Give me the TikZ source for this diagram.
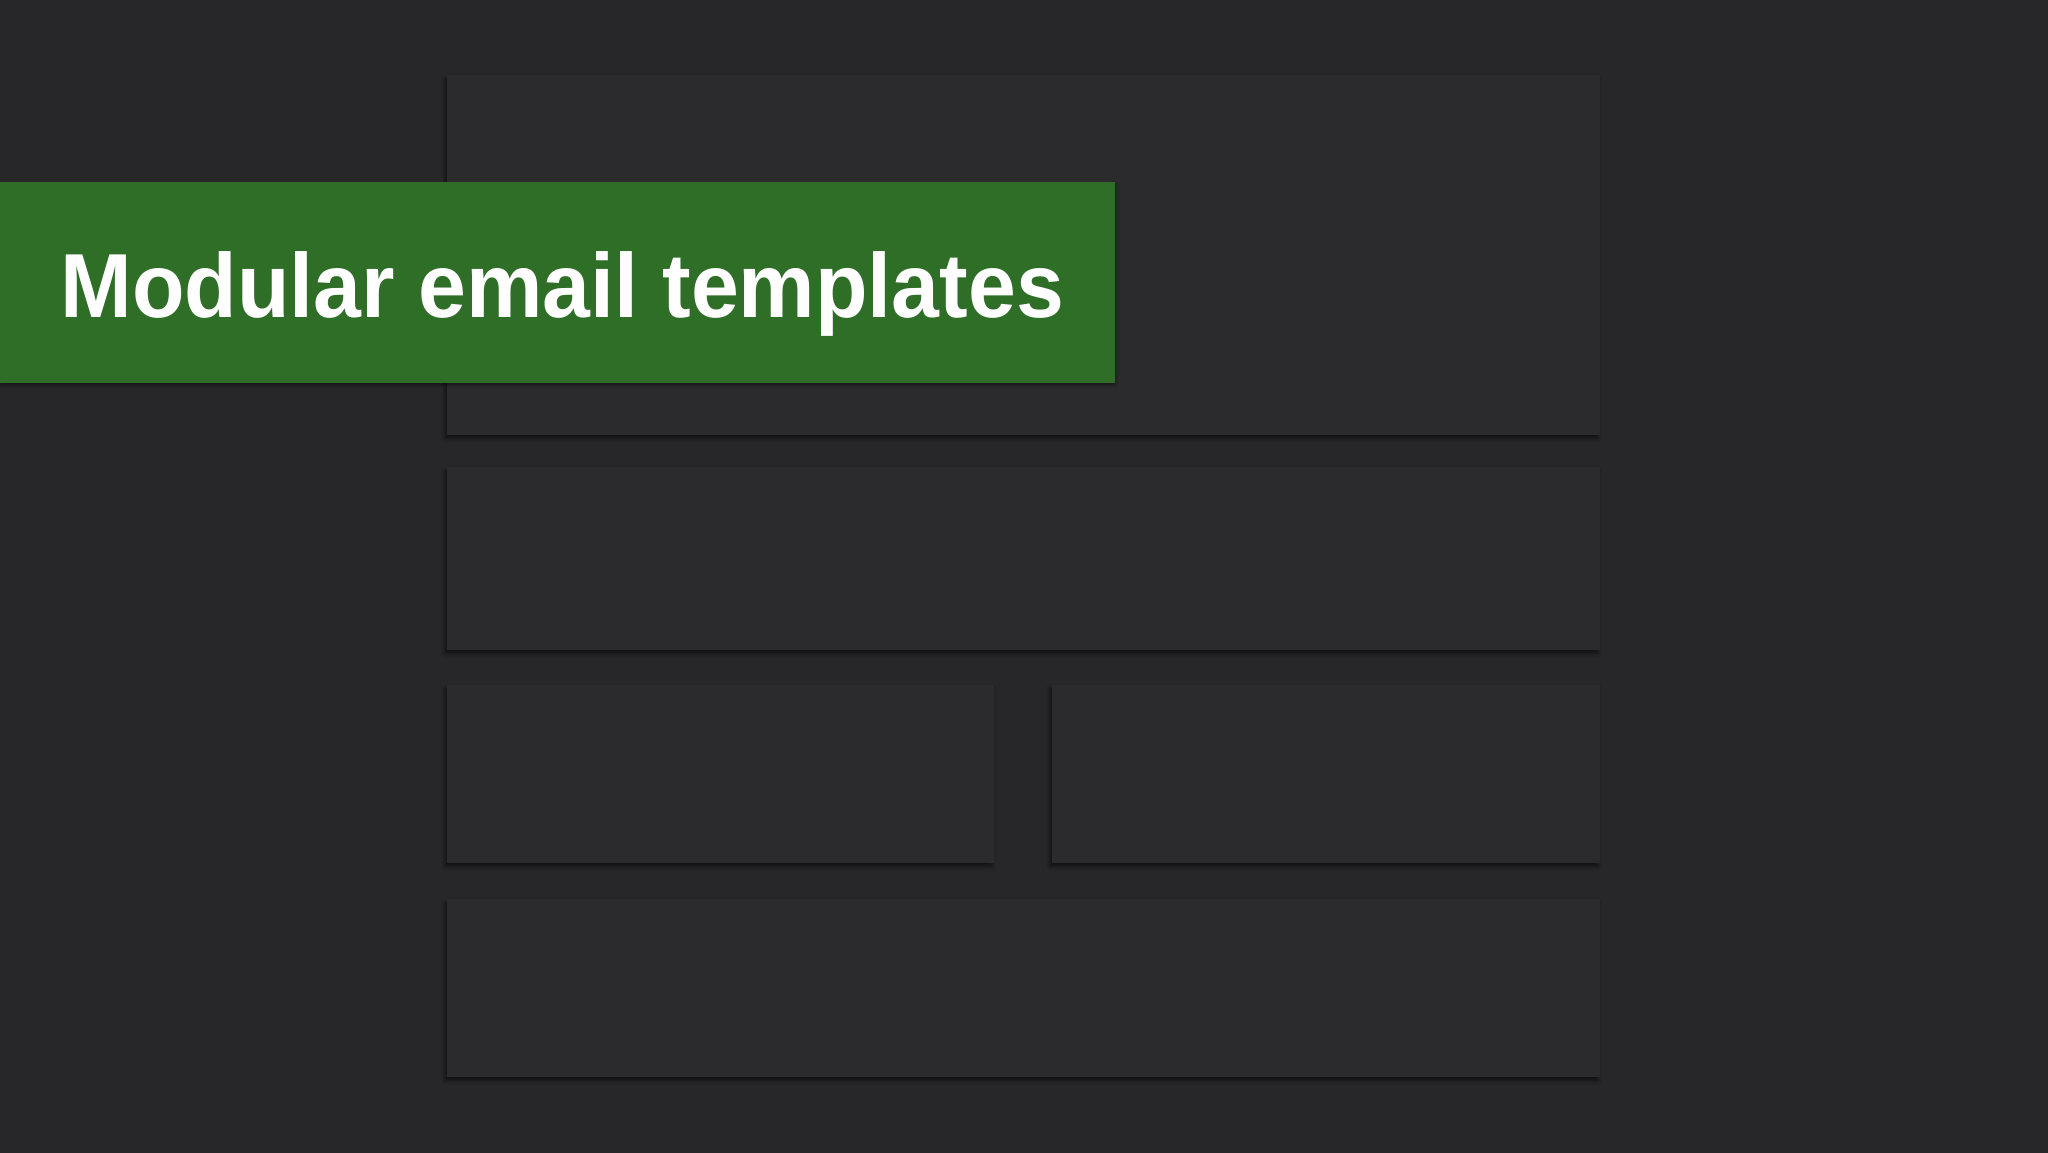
\documentclass[tikz,border=0pt]{standalone}
\usepackage{fontspec}
\setmainfont{Liberation Sans}[FakeStretch=0.945]
\usetikzlibrary{positioning, shadows.blur}

\definecolor{bggray}{HTML}{272629}
\definecolor{panelgray}{HTML}{2B2A2D}
\definecolor{bannergreen}{HTML}{2F6E27}

\tikzset{
  panel/.style={rectangle, fill=panelgray, inner sep=0pt, anchor=north west,
    blur shadow={shadow xshift=-1.2pt, shadow yshift=-1.5pt, shadow blur radius=2pt, shadow opacity=55}},
  banner/.style={rectangle, fill=bannergreen, inner sep=0pt, anchor=north west,
    blur shadow={shadow xshift=0pt, shadow yshift=-1.2pt, shadow blur radius=1.5pt, shadow opacity=40}},
}

\begin{document}
\begin{tikzpicture}[x=0.5pt, y=-0.5pt]
\useasboundingbox (0,0) rectangle (2048,1152);
\fill[bggray] (-10,-10) rectangle (2058,1162);

% template modules
\node[panel, minimum width=576.5pt, minimum height=180pt](header) at (447,75) {};
\node[panel, minimum width=576.5pt, minimum height=91.5pt](hero) at (447,467) {};
\node[panel, minimum width=273.5pt, minimum height=89pt](colleft) at (447,685) {};
\node[panel, minimum width=274pt, minimum height=89pt](colright) at (1052,685) {};
\node[panel, minimum width=576.5pt, minimum height=89pt](footer) at (447,899) {};

% title banner
\node[banner, minimum width=557.5pt, minimum height=100.5pt](band) at (0,182) {};
\node[anchor=base west, inner sep=0pt, text=white, font=\fontsize{45.5pt}{50pt}\selectfont\bfseries](title) at (60,317) {Modular email templates};
\end{tikzpicture}
\end{document}
